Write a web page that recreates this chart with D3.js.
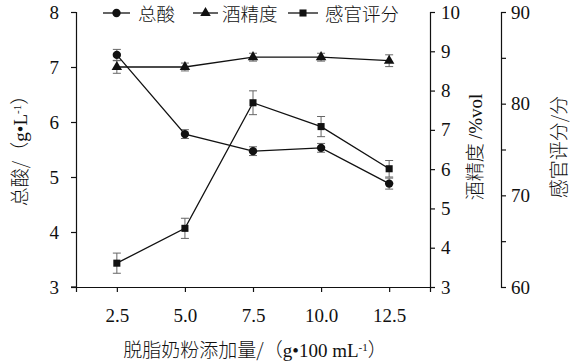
<!DOCTYPE html>
<html>
<head>
<meta charset="utf-8">
<script src="https://cdn.jsdelivr.net/npm/d3@7"></script>
<style>
  body { margin: 0; background: #fff; }
  svg text { fill: #111; }
</style>
</head>
<body>
<svg id="chart"></svg>
<script>
const doses = [2.5, 5.0, 7.5, 10.0, 12.5]
const acid = [7.22, 5.78, 5.47, 5.53, 4.88]
const acidErr = [0.1, 0.08, 0.08, 0.08, 0.1]
const alcohol = [8.6, 8.6, 8.85, 8.85, 8.76]
const alcoholErr = [0.16, 0.1, 0.1, 0.1, 0.15]
const sensory = [62.6, 66.4, 80.1, 77.5, 72.9]
const sensoryErr = [1.1, 1.1, 1.3, 1.1, 0.9]
const xTicks = [2.5, 5.0, 7.5, 10.0, 12.5]
const legendNames = ["总酸", "酒精度", "感官评分"]

const svgWidth = 571
const svgHeight = 363
const margin = {top: 12, left: 76, right: 141, bottom: 76}
const plotRight = svgWidth - margin.right   // 430
const plotBottom = svgHeight - margin.bottom // 287

const svg = d3.select("#chart")
  .attr("width", svgWidth)
  .attr("height", svgHeight)

const numFont = "'Liberation Serif', 'Times New Roman', serif"
const cjkFont = "'Noto Sans CJK SC', sans-serif"

const xScale = d3.scaleLinear().domain([1, 14]).range([margin.left, plotRight])
const yAcid = d3.scaleLinear().domain([3, 8]).range([plotBottom, margin.top])
const yAlc = d3.scaleLinear().domain([3, 10]).range([plotBottom, margin.top])
const ySens = d3.scaleLinear().domain([60, 90]).range([plotBottom, margin.top])

function styleAxis(g) {
  g.selectAll("path, line").attr("stroke", "#111").attr("stroke-width", 1.2)
  g.selectAll("text").style("font-family", numFont).style("font-size", "19px").attr("fill", "#111")
}

// bottom axis
svg.append("g")
  .attr("transform", `translate(0, ${plotBottom})`)
  .call(d3.axisBottom(xScale).tickValues(xTicks).tickFormat(d3.format(".1f")).tickSizeOuter(0).tickSize(5).tickPadding(17))
  .call(styleAxis)
svg.append("line")
  .attr("x1", margin.left - 5).attr("x2", margin.left)
  .attr("y1", plotBottom).attr("y2", plotBottom)
  .attr("stroke", "#111").attr("stroke-width", 1.2)

// left axis
svg.append("g")
  .attr("transform", `translate(${margin.left}, 0)`)
  .call(d3.axisLeft(yAcid).ticks(5).tickFormat(d3.format("d")).tickSizeOuter(0).tickSize(5).tickPadding(12))
  .call(styleAxis)

// right axis (alcohol)
svg.append("g")
  .attr("transform", `translate(${plotRight}, 0)`)
  .call(d3.axisRight(yAlc).ticks(7).tickFormat(d3.format("d")).tickSizeOuter(0).tickSize(5).tickPadding(6))
  .call(styleAxis)

// third axis (sensory)
svg.append("g")
  .attr("transform", "translate(501, 0)")
  .call(d3.axisRight(ySens).tickValues([60, 65, 70, 75, 80, 85, 90])
    .tickFormat(d => d % 10 === 0 ? d : "").tickSizeOuter(0).tickSize(5).tickPadding(5))
  .call(styleAxis)

// series
const series = [
  {values: acid, err: acidErr, y: yAcid, shape: d3.symbolCircle, size: 55},
  {values: alcohol, err: alcoholErr, y: yAlc, shape: d3.symbolTriangle, size: 48},
  {values: sensory, err: sensoryErr, y: ySens, shape: d3.symbolSquare, size: 50}
]

series.forEach(s => {
  const pts = doses.map((d, i) => ({x: d, v: s.values[i], e: s.err[i]}))
  const g = svg.append("g")
  const errG = g.selectAll("g.err").data(pts).join("g").attr("stroke", "#666").attr("stroke-width", 1)
  errG.append("line")
    .attr("x1", d => xScale(d.x)).attr("x2", d => xScale(d.x))
    .attr("y1", d => s.y(d.v - d.e)).attr("y2", d => s.y(d.v + d.e))
  errG.append("line")
    .attr("x1", d => xScale(d.x) - 4).attr("x2", d => xScale(d.x) + 4)
    .attr("y1", d => s.y(d.v + d.e)).attr("y2", d => s.y(d.v + d.e))
  errG.append("line")
    .attr("x1", d => xScale(d.x) - 4).attr("x2", d => xScale(d.x) + 4)
    .attr("y1", d => s.y(d.v - d.e)).attr("y2", d => s.y(d.v - d.e))

  g.append("path")
    .datum(pts)
    .attr("fill", "none")
    .attr("stroke", "#111")
    .attr("stroke-width", 1.3)
    .attr("d", d3.line().x(d => xScale(d.x)).y(d => s.y(d.v)))

  g.selectAll("path.pt").data(pts).join("path")
    .attr("class", "pt")
    .attr("transform", d => `translate(${xScale(d.x)}, ${s.y(d.v)})`)
    .attr("d", d3.symbol().type(s.shape).size(s.size))
    .attr("fill", "#111")
})

// legend
const legendLine = [[103, 130], [193, 218], [288, 318]]
const legendText = [138, 222, 325]
legendNames.forEach((name, i) => {
  const [a, b] = legendLine[i]
  svg.append("line").attr("x1", a).attr("x2", b).attr("y1", 13).attr("y2", 13)
    .attr("stroke", "#111").attr("stroke-width", 1.3)
  svg.append("path").attr("transform", `translate(${(a + b) / 2}, 13)`)
    .attr("d", d3.symbol().type(series[i].shape).size(series[i].size))
    .attr("fill", "#111")
  svg.append("text").attr("x", legendText[i]).attr("y", 21)
    .style("font-family", cjkFont).style("font-size", "18.5px").style("font-weight", 300)
    .text(name)
})

// axis titles
function rotTitle(x, y, parts) {
  const t = svg.append("text")
    .attr("transform", `translate(${x}, ${y}) rotate(-90)`)
    .attr("text-anchor", "middle")
    .style("font-size", "19px")
  parts.forEach(p => {
    const ts = t.append("tspan").text(p.t).style("font-family", p.f || cjkFont).style("font-weight", p.f ? 400 : 300)
    if (p.sup) ts.attr("baseline-shift", "super").style("font-size", "11px")
  })
  return t
}

rotTitle(27, 146, [{t: "总酸/（"}, {t: "g•L", f: numFont}, {t: "-1", f: numFont, sup: true}, {t: "）"}])
rotTitle(482, 147, [{t: "酒精度 "}, {t: "/%vol", f: numFont}])
rotTitle(566, 147, [{t: "感官评分/分"}])

const xTitle = svg.append("text")
  .attr("x", 255).attr("y", 357)
  .attr("text-anchor", "middle")
  .style("font-size", "19px")
xTitle.append("tspan").text("脱脂奶粉添加量/（").style("font-family", cjkFont).style("font-weight", 300)
xTitle.append("tspan").text("g•100 mL").style("font-family", numFont)
xTitle.append("tspan").text("-1").style("font-family", numFont).style("font-size", "11px").attr("baseline-shift", "super")
xTitle.append("tspan").text("）").style("font-family", cjkFont).style("font-weight", 300)
</script>
</body>
</html>
